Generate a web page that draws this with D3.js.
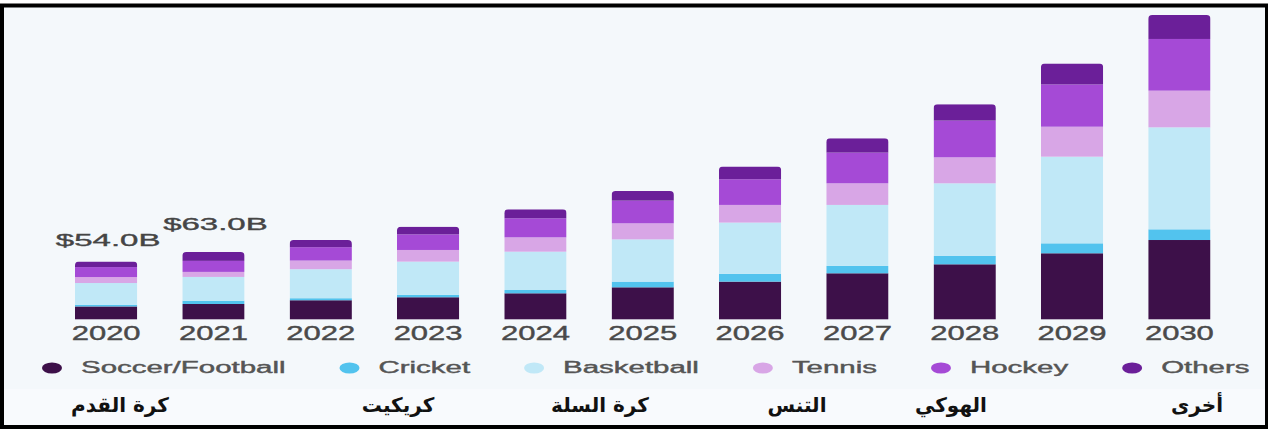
<!DOCTYPE html>
<html>
<head>
<meta charset="utf-8">
<script src="https://cdn.jsdelivr.net/npm/d3@7"></script>
<style>
  html, body { margin: 0; padding: 0; background: #ffffff; }
  svg { display: block; }
</style>
</head>
<body>
<div id="chart-area"></div>
<script>
// data (billions USD)
const years = ["2020", "2021", "2022", "2023", "2024", "2025", "2026", "2027", "2028", "2029", "2030"]
const soccer = [12.0, 14.3, 17.8, 20.6, 24.3, 29.9, 35.2, 43.0, 51.4, 61.7, 74.1]
const cricket = [1.6, 3.1, 1.9, 2.2, 3.1, 5.3, 7.2, 6.9, 7.8, 9.3, 10.0]
const basketball = [20.3, 22.2, 27.1, 31.1, 35.8, 39.5, 48.0, 57.0, 67.9, 81.0, 95.3]
const tennis = [5.6, 4.7, 8.1, 10.9, 13.4, 15.0, 16.5, 20.2, 24.3, 28.0, 34.3]
const hockey = [9.3, 10.3, 12.5, 14.6, 17.8, 21.2, 24.0, 28.7, 34.3, 39.5, 48.3]
const others = [5.2, 8.4, 6.8, 7.2, 8.4, 9.0, 11.9, 13.4, 15.3, 19.6, 22.4]

const seriesNames = ["Soccer/Football", "Cricket", "Basketball", "Tennis", "Hockey", "Others"]
const seriesKeys = ["soccer", "cricket", "basketball", "tennis", "hockey", "others"]
const seriesColors = ["#3d1049", "#52c3ee", "#c0e8f7", "#d8a6e6", "#a54ad6", "#6b1f99"]
const arabicNames = ["كرة القدم", "كريكيت", "كرة السلة", "التنس", "الهوكي", "أخرى"]
const valueLabels = ["$54.0B", "$63.0B"]

const WIDTH = 1268
const HEIGHT = 429
const BASE = 319.3
const TOP = 15

const svg = d3.select("#chart-area").append("svg")
  .attr("width", WIDTH)
  .attr("height", HEIGHT)

// frame
svg.append("rect")
  .attr("x", 2).attr("y", 5.5)
  .attr("width", 1265).attr("height", 421.5)
  .attr("fill", "#f4f8fb")
  .attr("stroke", "#000")
  .attr("stroke-width", 4)

svg.append("rect")
  .attr("x", 4).attr("y", 389)
  .attr("width", 1261).attr("height", 36)
  .attr("fill", "#f8fafd")

const data = years.map((yr, i) => ({
  year: yr,
  soccer: soccer[i], cricket: cricket[i], basketball: basketball[i],
  tennis: tennis[i], hockey: hockey[i], others: others[i]
}))
const totals = data.map(d => seriesKeys.reduce((s, k) => s + d[k], 0))

const x = d3.scaleBand()
  .domain(years)
  .range([75, 1210.5])
  .paddingInner(0.42)
  .paddingOuter(0)

const y = d3.scaleLinear()
  .domain([0, d3.max(totals)])
  .range([BASE, TOP])

const stack = d3.stack().keys(seriesKeys)(data)

// clip paths for rounded tops
const defs = svg.append("defs")
defs.selectAll("clipPath")
  .data(data)
  .enter().append("clipPath")
    .attr("id", (d, i) => "clip" + i)
  .append("rect")
    .attr("x", d => x(d.year))
    .attr("y", (d, i) => y(totals[i]))
    .attr("width", x.bandwidth())
    .attr("height", (d, i) => BASE - y(totals[i]) + 10)
    .attr("rx", 4)

const bars = svg.append("g")
bars.selectAll("g")
  .data(stack)
  .enter().append("g")
    .attr("fill", (s, i) => seriesColors[i])
  .selectAll("rect")
  .data(s => s)
  .enter().append("rect")
    .attr("clip-path", (d, i) => `url(#clip${i})`)
    .attr("x", d => x(d.data.year))
    .attr("y", d => y(d[1]))
    .attr("width", x.bandwidth())
    .attr("height", d => y(d[0]) - y(d[1]))

// value labels on first two bars
svg.selectAll(".val")
  .data(valueLabels)
  .enter().append("text")
    .attr("class", "val")
    .attr("transform", (d, i) => `translate(${x(years[i]) + x.bandwidth() / 2 + 2}, ${y(totals[i]) - (i === 0 ? 15.5 : 22)}) scale(2.0,1)`)
    .attr("text-anchor", "middle")
    .attr("font-family", "Liberation Sans, Arial, sans-serif")
    .attr("font-size", "16.5px")
    .attr("fill", "#454545")
    .attr("stroke", "#454545")
    .attr("stroke-width", 0.35)
    .text(d => d)

// year axis
const xAxis = svg.append("g")
  .attr("transform", `translate(0, ${BASE})`)
  .call(d3.axisBottom(x).tickSize(0).tickPadding(0))
xAxis.select(".domain").remove()
xAxis.selectAll(".tick text")
  .attr("y", 0)
  .attr("dy", 0)
  .attr("x", 0)
  .attr("transform", "translate(0, 20.5) scale(1.55,1)")
  .attr("font-family", "Liberation Sans, Arial, sans-serif")
  .attr("font-size", "20px")
  .attr("fill", "#4a4a4a")
  .attr("stroke", "#4a4a4a")
  .attr("stroke-width", 0.4)
  .attr("text-anchor", "middle")

// legend
const legend = svg.append("g")
const LEG_SX = 1.84
let lx = 52
seriesNames.forEach((name, i) => {
  legend.append("ellipse")
    .attr("cx", lx).attr("cy", 368)
    .attr("rx", 10).attr("ry", 5.5)
    .attr("fill", seriesColors[i])
  const t = legend.append("text")
    .attr("transform", `translate(${lx + 29}, 373) scale(${LEG_SX},1)`)
    .attr("font-family", "Liberation Sans, Arial, sans-serif")
    .attr("font-size", "16px")
    .attr("fill", "#555")
    .attr("stroke", "#555")
    .attr("stroke-width", 0.4)
    .text(name)
  lx = lx + 29 + t.node().getComputedTextLength() * LEG_SX + 64
})

// arabic captions
const AR_X = [120, 398, 600, 797, 951, 1197]
svg.selectAll(".ar")
  .data(arabicNames)
  .enter().append("text")
    .attr("class", "ar")
    .attr("x", (d, i) => AR_X[i])
    .attr("y", 412)
    .attr("text-anchor", "middle")
    .attr("direction", "rtl")
    .attr("font-family", "DejaVu Sans, sans-serif")
    .attr("font-weight", "bold")
    .attr("font-size", "20px")
    .attr("fill", "#111")
    .text(d => d)
</script>
</body>
</html>
